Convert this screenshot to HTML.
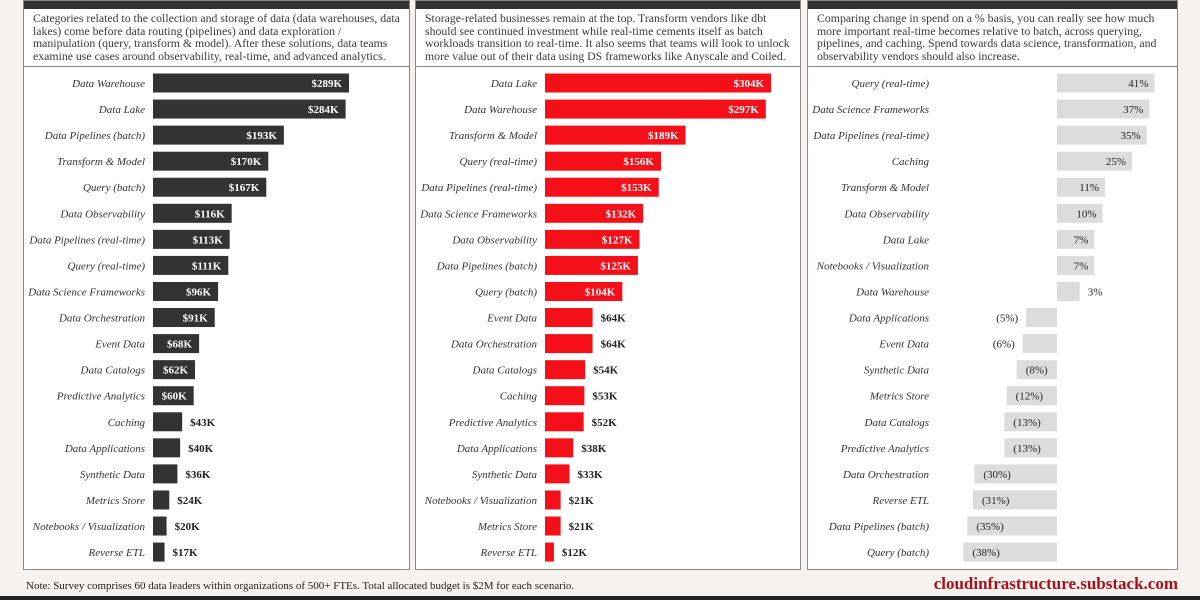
<!DOCTYPE html>
<html><head><meta charset="utf-8"><style>
body{margin:0;width:1200px;height:600px;background:#f6f2ef;font-family:"Liberation Serif",serif;position:relative;overflow:hidden}
.panel{position:absolute;top:0;height:570px;background:#fff;border:1px solid #888;box-sizing:border-box}
.hdr{position:absolute;left:0;right:0;top:0;height:8px;background:#333}
.desc{position:absolute;left:9px;right:8px;top:11px;font-size:11.8px;line-height:12.5px;color:#3a3a3a}
.sep{position:absolute;left:0;right:0;top:65px;border-top:1px solid #888}
svg{position:absolute;left:0;top:0}
.note{position:absolute;left:26px;top:580px;font-size:11px;color:#222}
.url{position:absolute;right:22px;top:574px;font-size:17px;font-weight:bold;color:#a8111b}
.bottom{position:absolute;left:0;right:0;top:596px;height:4px;background:#222}
</style></head><body>
<div class="panel" style="left:23px;width:387px"><div class="hdr"></div>
<div class="desc">Categories related to the collection and storage of data (data warehouses, data lakes) come before data routing (pipelines) and data exploration / manipulation (query, transform &amp; model). After these solutions, data teams examine use cases around observability, real-time, and advanced analytics.</div><div class="sep"></div></div>
<div class="panel" style="left:415px;width:386px"><div class="hdr"></div>
<div class="desc">Storage-related businesses remain at the top. Transform vendors like dbt should see continued investment while real-time cements itself as batch workloads transition to real-time. It also seems that teams will look to unlock more value out of their data using DS frameworks like Anyscale and Coiled.</div><div class="sep"></div></div>
<div class="panel" style="left:807px;width:371px"><div class="hdr"></div>
<div class="desc">Comparing change in spend on a % basis, you can really see how much more important real-time becomes relative to batch, across querying, pipelines, and caching. Spend towards data science, transformation, and observability vendors should also increase.</div><div class="sep"></div></div>
<svg id="chart" width="1200" height="600"></svg>
<div class="note">Note: Survey comprises 60 data leaders within organizations of 500+ FTEs. Total allocated budget is $2M for each scenario.</div>
<div class="url">cloudinfrastructure.substack.com</div>
<div class="bottom"></div>
<script>
const cats1=["Data Warehouse","Data Lake","Data Pipelines (batch)","Transform & Model","Query (batch)","Data Observability","Data Pipelines (real-time)","Query (real-time)","Data Science Frameworks","Data Orchestration","Event Data","Data Catalogs","Predictive Analytics","Caching","Data Applications","Synthetic Data","Metrics Store","Notebooks / Visualization","Reverse ETL"];
const vals1=[289,284,193,170,167,116,113,111,96,91,68,62,60,43,40,36,24,20,17];
const cats2=["Data Lake","Data Warehouse","Transform & Model","Query (real-time)","Data Pipelines (real-time)","Data Science Frameworks","Data Observability","Data Pipelines (batch)","Query (batch)","Event Data","Data Orchestration","Data Catalogs","Caching","Predictive Analytics","Data Applications","Synthetic Data","Notebooks / Visualization","Metrics Store","Reverse ETL"];
const vals2=[304,297,189,156,153,132,127,125,104,64,64,54,53,52,38,33,21,21,12];
const cats3=["Query (real-time)","Data Science Frameworks","Data Pipelines (real-time)","Caching","Transform & Model","Data Observability","Data Lake","Notebooks / Visualization","Data Warehouse","Data Applications","Event Data","Synthetic Data","Metrics Store","Data Catalogs","Predictive Analytics","Data Orchestration","Reverse ETL","Data Pipelines (batch)","Query (batch)"];
const vals3=[41,37,35,25,11,10,7,7,3,-5,-6,-8,-12,-13,-13,-30,-31,-35,-38];
const svg=document.getElementById('chart');const NS="http://www.w3.org/2000/svg";
function el(t,a,txt){const e=document.createElementNS(NS,t);for(const k in a)e.setAttribute(k,a[k]);if(txt!=null)e.textContent=txt;svg.appendChild(e);return e;}
const yPos=i=>83+i*26.06;
function draw(cats,vals,x0,wfn,color,labelRight,fmt,thresh,key){
  cats.forEach((c,i)=>{const y=yPos(i),v=vals[i];
    const lab=el('text',{x:labelRight,y:y+4,'text-anchor':'end','font-size':11,'font-style':'italic',fill:'#333'},c);
    
    
    const w=wfn(Math.abs(v)),bx=v>=0?x0:x0-w;
    const r=el('rect',{x:bx,y:y-9.5,width:w,height:19,fill:color});
    
    
    let t;
    if(key==='chg'){
      const inside=Math.abs(v)>=thresh;
      if(v>=0)t=inside?el('text',{x:x0+w-6,y:y+4,'text-anchor':'end','font-size':11,fill:'#222'},fmt(v))
                     :el('text',{x:x0+w+8,y:y+4,'text-anchor':'start','font-size':11,fill:'#222'},fmt(v));
      else t=inside?el('text',{x:bx+9,y:y+4,'text-anchor':'start','font-size':11,fill:'#222'},fmt(v))
                   :el('text',{x:bx-8,y:y+4,'text-anchor':'end','font-size':11,fill:'#222'},fmt(v));
    }else if(v>=thresh)t=el('text',{x:x0+w-7,y:y+4,'text-anchor':'end','font-size':11,'font-weight':'bold',fill:'#fff'},fmt(v));
    else t=el('text',{x:x0+w+8,y:y+4,'text-anchor':'start','font-size':11,'font-weight':'bold',fill:'#222'},fmt(v));
    
    
  });
}
draw(cats1,vals1,153,v=>v*196/289,'#333333',145,v=>'$'+v+'K',55,'cur');
draw(cats2,vals2,545,v=>v*226/304,'#f50f19',537,v=>'$'+v+'K',100,'fut');
draw(cats3,vals3,1057,v=>Math.max(0,16*Math.sqrt(v)-5),'#dcdcdc',929,v=>v>=0?v+'%':'('+(-v)+'%)',7,'chg');
</script>
</body></html>
